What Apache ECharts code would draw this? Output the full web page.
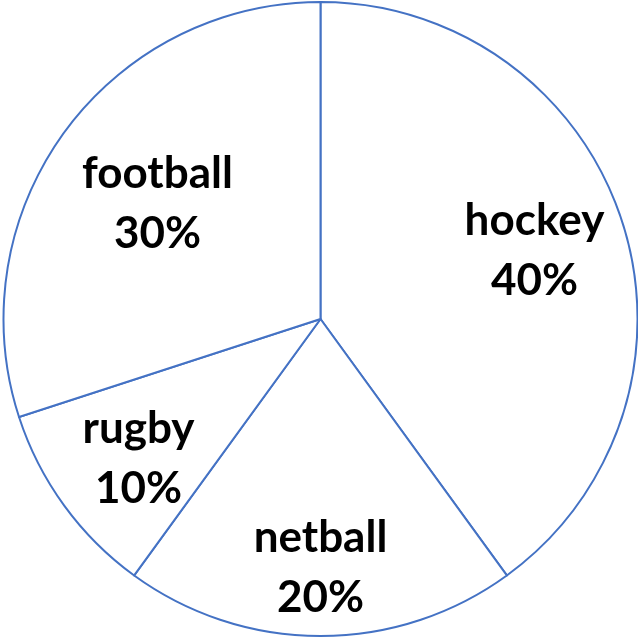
<!DOCTYPE html>
<html>
<head>
<meta charset="utf-8">
<script src="https://cdn.jsdelivr.net/npm/echarts@6/dist/echarts.min.js"></script>
<style>html,body{margin:0;padding:0;background:#fff}#c{width:638px;height:637px}</style>
</head>
<body>
<div id="c"></div>
<script>
var categories = ['hockey', 'netball', 'rugby', 'football'];
var values = [40, 20, 10, 30];
// per-slice label nudges to match the reference label placement
var labelOffsets = [[0, 1], [0, 24], [0, 8], [19, 17]];

var data = categories.map(function (c, i) { return { name: c, value: values[i] }; });
var labelData = categories.map(function (c, i) {
  return { name: c, value: values[i], label: { offset: labelOffsets[i] } };
});
var chart = echarts.init(document.getElementById('c'), null, { renderer: 'canvas' });
chart.setOption({
  animation: false,
  series: [
    {
      type: 'pie',
      center: [320.5, 319],
      radius: [0, 317],
      startAngle: 90,
      clockwise: true,
      silent: true,
      itemStyle: { color: '#ffffff', borderColor: '#4472C4', borderWidth: 2 },
      label: { show: false },
      labelLine: { show: false },
      data: data
    },
    {
      type: 'pie',
      center: [320.5, 319],
      radius: [127, 317],
      startAngle: 90,
      clockwise: true,
      silent: true,
      itemStyle: { color: 'rgba(0,0,0,0)', borderWidth: 0 },
      label: {
        show: true,
        position: 'inside',
        formatter: function (p) { return p.name + '\n' + p.value + '%'; },
        fontFamily: 'Lato',
        fontWeight: 'bold',
        fontSize: 44,
        lineHeight: 60,
        color: '#000'
      },
      labelLine: { show: false },
      data: labelData
    }
  ]
});
</script>
</body>
</html>
